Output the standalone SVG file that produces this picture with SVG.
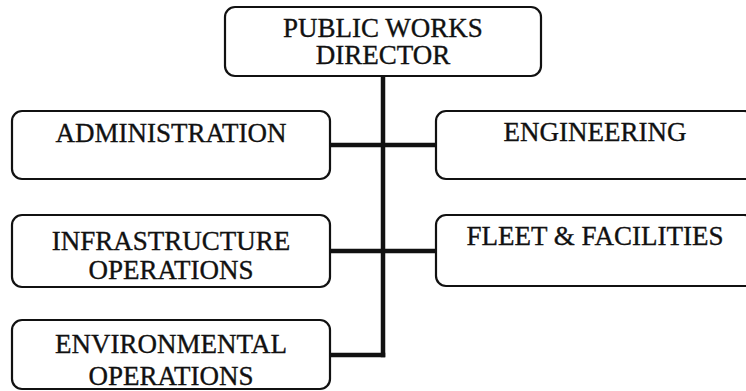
<svg xmlns="http://www.w3.org/2000/svg" width="746" height="391" viewBox="0 0 746 391">
  <style>
    .box { fill: #fff; stroke: #111; stroke-width: 2.2; }
    .lbl { font-family: "Liberation Serif", "Times New Roman", serif; font-size: 27px; fill: #111; stroke: #111; stroke-width: 0.35; text-anchor: middle; }
    .wire { stroke: #111; stroke-width: 4.5; fill: none; stroke-linecap: square; }
  </style>
  <rect width="746" height="391" fill="#fff"/>

  <!-- connectors: one trunk from the director, branches to each division -->
  <g id="connectors">
    <path class="wire" d="M383 77 V355"/>
    <path class="wire" d="M330 145 H436"/>
    <path class="wire" d="M330 251 H436"/>
    <path class="wire" d="M330 355 H383"/>
  </g>

  <g id="director">
    <rect class="box" x="225" y="7" width="316" height="69" rx="10"/>
    <text class="lbl" x="383" y="37">PUBLIC WORKS</text>
    <text class="lbl" x="383" y="64">DIRECTOR</text>
  </g>

  <g id="administration">
    <rect class="box" x="12" y="111" width="318" height="68" rx="10"/>
    <text class="lbl" x="171" y="142">ADMINISTRATION</text>
  </g>

  <g id="engineering">
    <rect class="box" x="436" y="111" width="318" height="68" rx="10"/>
    <text class="lbl" x="595" y="141">ENGINEERING</text>
  </g>

  <g id="infrastructure">
    <rect class="box" x="12" y="215" width="318" height="72" rx="10"/>
    <text class="lbl" x="171" y="250">INFRASTRUCTURE</text>
    <text class="lbl" x="171" y="279">OPERATIONS</text>
  </g>

  <g id="fleet">
    <rect class="box" x="436" y="215" width="318" height="71" rx="10"/>
    <text class="lbl" x="595" y="245">FLEET &amp; FACILITIES</text>
  </g>

  <g id="environmental">
    <rect class="box" x="12" y="320" width="318" height="69" rx="10"/>
    <text class="lbl" x="171" y="353">ENVIRONMENTAL</text>
    <text class="lbl" x="171" y="385">OPERATIONS</text>
  </g>
</svg>
